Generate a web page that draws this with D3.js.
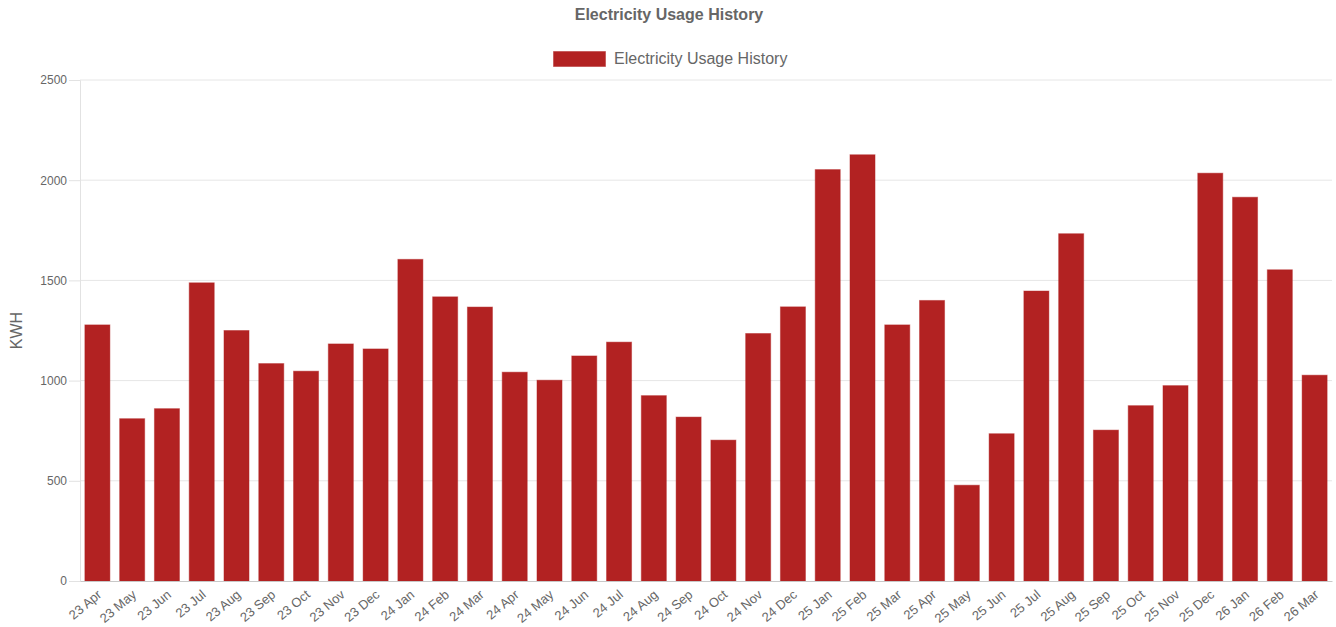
<!DOCTYPE html>
<html>
<head>
<meta charset="utf-8">
<script src="https://cdn.jsdelivr.net/npm/d3@7"></script>
<style>
  body { margin: 0; background: #fff; }
  svg { display: block; font-family: "Liberation Sans", Arial, sans-serif; }
</style>
</head>
<body>
<div id="chart"></div>
<script>
/* Data */
const months = ["23 Apr","23 May","23 Jun","23 Jul","23 Aug","23 Sep","23 Oct","23 Nov","23 Dec",
  "24 Jan","24 Feb","24 Mar","24 Apr","24 May","24 Jun","24 Jul","24 Aug","24 Sep","24 Oct","24 Nov","24 Dec",
  "25 Jan","25 Feb","25 Mar","25 Apr","25 May","25 Jun","25 Jul","25 Aug","25 Sep","25 Oct","25 Nov","25 Dec",
  "26 Jan","26 Feb","26 Mar"];
const usage = [1278, 810, 860, 1488, 1250, 1085, 1047, 1183, 1158,
  1605, 1418, 1367, 1042, 1002, 1123, 1192, 925, 818, 703, 1235, 1368,
  2053, 2127, 1278, 1400, 478, 735, 1447, 1733, 753, 875, 975, 2035,
  1915, 1553, 1027];
const yTicks = [0, 500, 1000, 1500, 2000, 2500];
const seriesName = "Electricity Usage History";

let width = 1336;
let height = 627;
let margin = {top: 80, bottom: 46, left: 80, right: 4};
let barColor = "#b22222";
let textColor = "#666";

let svg = d3.select("#chart")
            .append("svg")
              .attr("width", width)
              .attr("height", height);

let xScale = d3.scaleBand()
               .domain(months)
               .range([margin.left, width - margin.right])
               .paddingInner(0.28)
               .paddingOuter(0.14);

let yScale = d3.scaleLinear()
               .domain([0, 2500])
               .range([height - margin.bottom, margin.top]);

// title + legend
svg.append("text")
   .attr("x", 669)
   .attr("y", 20)
   .attr("text-anchor", "middle")
   .attr("font-size", 16)
   .attr("font-weight", "bold")
   .attr("fill", textColor)
   .text(seriesName);

svg.append("rect")
   .attr("x", 553.5)
   .attr("y", 51.5)
   .attr("width", 52)
   .attr("height", 15)
   .attr("fill", barColor)
   .attr("stroke", "rgba(178,34,34,0.45)");

svg.append("text")
   .attr("x", 614)
   .attr("y", 64)
   .attr("font-size", 16)
   .attr("fill", textColor)
   .text(seriesName);

// y grid and axis
svg.append("g")
   .selectAll("line")
   .data(yTicks.slice(1))
   .enter()
   .append("line")
     .attr("x1", margin.left)
     .attr("x2", width - margin.right)
     .attr("y1", d => yScale(d))
     .attr("y2", d => yScale(d))
     .attr("stroke", "#e6e6e6");

let yAxis = svg.append("g")
   .attr("transform", `translate(${margin.left}, 0)`)
   .call(d3.axisLeft(yScale)
           .tickValues(yTicks)
           .tickFormat(d3.format("d"))
           .tickSize(11)
           .tickPadding(2));
yAxis.select(".domain").attr("stroke", "#e2e2e2");
yAxis.selectAll(".tick line").attr("stroke", "#e2e2e2");
yAxis.selectAll(".tick text")
     .attr("fill", textColor)
     .attr("font-size", 12)
     .attr("font-family", "Liberation Sans, Arial, sans-serif");

svg.append("text")
   .attr("transform", `translate(22, ${(margin.top + height - margin.bottom) / 2}) rotate(-90)`)
   .attr("text-anchor", "middle")
   .attr("font-size", 16)
   .attr("fill", textColor)
   .text("KWH");

// bars
svg.append("g")
   .selectAll("rect")
   .data(usage)
   .enter()
   .append("rect")
     .attr("x", (d, i) => xScale(months[i]))
     .attr("y", d => yScale(d))
     .attr("width", xScale.bandwidth())
     .attr("height", d => yScale(0) - yScale(d))
     .attr("fill", barColor)
     .attr("stroke", "rgba(178,34,34,0.45)")
     .attr("stroke-width", 1);

// x axis
let xAxis = svg.append("g")
   .attr("transform", `translate(0, ${yScale(0)})`)
   .call(d3.axisBottom(xScale).tickSize(0).tickPadding(0));
xAxis.select(".domain").attr("stroke", "#c8c8c8");
xAxis.selectAll(".tick text")
     .attr("fill", textColor)
     .attr("font-size", 13)
     .attr("font-family", "Liberation Sans, Arial, sans-serif")
     .attr("text-anchor", "end")
     .attr("dy", 0)
     .attr("transform", "translate(5, 15) rotate(-40)");
</script>
</body>
</html>
